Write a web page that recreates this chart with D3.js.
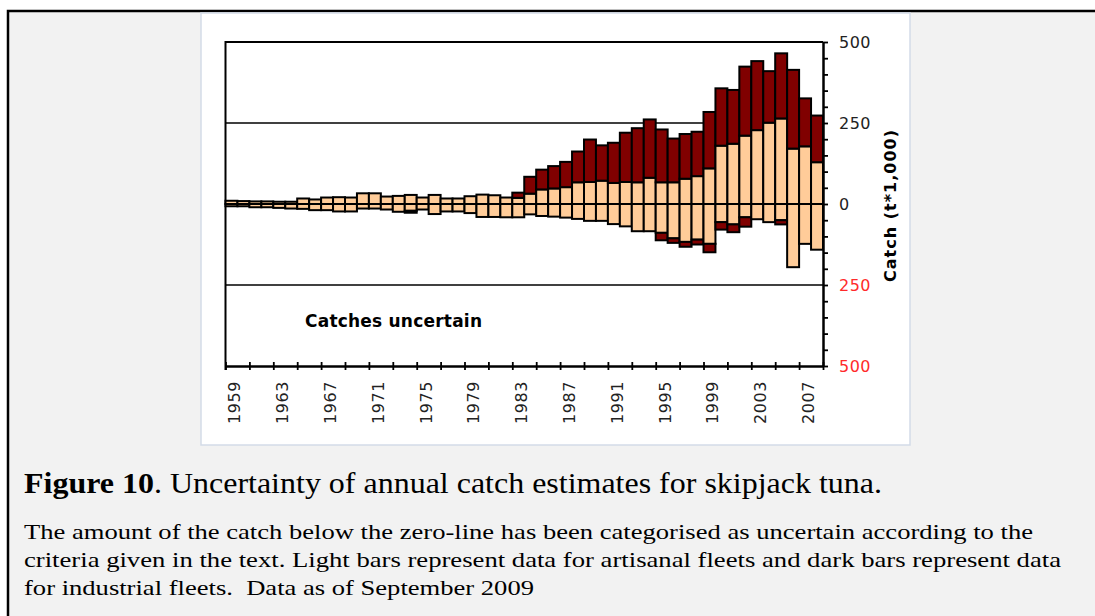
<!DOCTYPE html>
<meta charset="utf-8">
<html>
  <head>
    <title>Figure 10</title>
    <script src="https://d3js.org/d3.v7.min.js"></script>
    <style>
      html, body { margin: 0; background: #f2f2f2; overflow: hidden; }
    </style>
  </head>

  <body>
    <div id="chart"></div>

    <script type="text/javascript">

        // Catch in t*1,000
        var years = [1959, 1960, 1961, 1962, 1963, 1964, 1965, 1966, 1967, 1968,
                     1969, 1970, 1971, 1972, 1973, 1974, 1975, 1976, 1977, 1978,
                     1979, 1980, 1981, 1982, 1983, 1984, 1985, 1986, 1987, 1988,
                     1989, 1990, 1991, 1992, 1993, 1994, 1995, 1996, 1997, 1998,
                     1999, 2000, 2001, 2002, 2003, 2004, 2005, 2006, 2007, 2008];

        // above the zero-line
        var artisanal = [10, 9, 8, 8, 7, 7, 17, 14, 20, 21,
                         20, 33, 33, 23, 25, 28, 20, 28, 17, 17,
                         24, 29, 27, 20, 19, 32, 45, 48, 52, 67,
                         68, 72, 65, 68, 67, 81, 67, 67, 78, 86,
                         110, 180, 186, 211, 228, 251, 264, 171, 178, 129];
        var industrial = [0, 0, 0, 0, 0, 0, 0, 0, 0, 0,
                          0, 0, 0, 0, 0, 0, 0, 0, 0, 0,
                          0, 0, 0, 0, 16, 52, 61, 69, 78, 95,
                          131, 109, 124, 152, 167, 180, 163, 135, 138, 137,
                          174, 177, 166, 213, 213, 159, 201, 243, 148, 144];

        // below the zero-line (uncertain)
        var artisanal_unc = [7, 7, 10, 10, 12, 14, 15, 19, 19, 23,
                             23, 14, 14, 17, 24, 21, 17, 31, 23, 23,
                             28, 40, 40, 41, 41, 32, 37, 39, 42, 46,
                             52, 52, 62, 69, 84, 84, 89, 106, 117, 110,
                             123, 56, 63, 41, 47, 56, 50, 195, 123, 141];
        var industrial_unc = [0, 0, 0, 0, 0, 0, 0, 0, 0, 0,
                              0, 0, 0, 0, 0, 6, 0, 0, 0, 0,
                              0, 0, 0, 0, 0, 0, 0, 0, 0, 0,
                              0, 0, 0, 0, 0, 0, 23, 14, 15, 15,
                              26, 23, 24, 29, 0, 0, 13, 0, 0, 0];

        var label_years = [1959, 1963, 1967, 1971, 1975, 1979, 1983, 1987, 1991, 1995, 1999, 2003, 2007];
        var y_ticks = [-500, -250, 0, 250, 500];

        var total_width = 1140,
            total_height = 640,
            plot = {left: 225.5, right: 823, top: 42, bottom: 366},
            light = "#ffcc99",
            dark = "#800000";

        var svg = d3.select("#chart").append("svg")
            .attr("width", total_width)
            .attr("height", total_height)
            .style("display", "block");

        // page background, frame shows only on top and left
        svg.append("rect")
            .attr("x", 0).attr("y", 0)
            .attr("width", total_width).attr("height", 11)
            .style("fill", "white");
        svg.append("rect")
            .attr("x", 0).attr("y", 0)
            .attr("width", 8).attr("height", total_height)
            .style("fill", "white");
        svg.append("path")
            .attr("d", "M8," + total_height + "V11H" + total_width)
            .style("fill", "none")
            .style("stroke", "black")
            .style("stroke-width", 2.5);

        svg.append("rect")
            .attr("x", 201).attr("y", 13)
            .attr("width", 709).attr("height", 432)
            .style("fill", "white")
            .style("stroke", "#d3dbe8")
            .style("stroke-width", 1.5);

        //Implement scales
        var x_scale = d3.scaleBand()
            .domain(years)
            .range([plot.left, plot.right])
            .padding(0);
        var x_lin = d3.scaleLinear()
            .domain([years[0], years[years.length - 1] + 1])
            .range([plot.left, plot.right]);
        var y_scale = d3.scaleLinear()
            .domain([-500, 500])
            .range([plot.bottom, plot.top]);

        // gridlines at +-250 and frame
        svg.append("g").selectAll("line")
            .data([250, -250])
            .enter().append("line")
            .attr("x1", plot.left).attr("x2", plot.right)
            .attr("y1", function(d){ return y_scale(d); })
            .attr("y2", function(d){ return y_scale(d); })
            .style("stroke", "black")
            .style("stroke-width", 1.6);

        svg.append("path")
            .attr("d", "M" + plot.left + "," + (plot.bottom + 4) + "V" + plot.top + "H" + plot.right)
            .style("fill", "none")
            .style("stroke", "black")
            .style("stroke-width", 2);

        //Build bar segments
        var segments = [];
        years.forEach(function(yr, i){
            var a = artisanal[i], b = industrial[i], c = artisanal_unc[i], e = industrial_unc[i];
            if (a > 0) segments.push({year: yr, lo: 0, hi: a, fill: light});
            if (b > 0) segments.push({year: yr, lo: a, hi: a + b, fill: dark});
            if (c > 0) segments.push({year: yr, lo: -c, hi: 0, fill: light});
            if (e > 0) segments.push({year: yr, lo: -c - e, hi: -c, fill: dark});
        });

        svg.append("g").selectAll("rect")
            .data(segments)
            .enter().append("rect")
            .attr("x", function(d){ return x_scale(d.year); })
            .attr("y", function(d){ return y_scale(d.hi); })
            .attr("width", x_scale.bandwidth())
            .attr("height", function(d){ return y_scale(d.lo) - y_scale(d.hi); })
            .style("fill", function(d){ return d.fill; })
            .style("stroke", "black")
            .style("stroke-width", 2);

        // zero line
        svg.append("line")
            .attr("x1", plot.left).attr("x2", plot.right)
            .attr("y1", y_scale(0)).attr("y2", y_scale(0))
            .style("stroke", "black")
            .style("stroke-width", 1.2);

        //Build axis
        var y_axis = d3.axisRight(y_scale)
            .tickValues(d3.range(-500, 501, 50))
            .tickSize(5)
            .tickSizeOuter(0)
            .tickPadding(11)
            .tickFormat(function(d){ return y_ticks.indexOf(d) >= 0 ? Math.abs(d) : ""; });

        var y_g = svg.append("g")
            .attr("transform", "translate(" + plot.right + ",0)")
            .call(y_axis);
        y_g.select(".domain").style("stroke-width", 2.5);
        y_g.selectAll(".tick line").style("stroke-width", 1.8);
        y_g.selectAll("text")
            .style("font-family", "DejaVu Sans")
            .style("font-size", "16px")
            .style("letter-spacing", "0.5px")
            .style("fill", function(d){ return d < 0 ? "#ff2a2a" : "#222"; });

        var x_axis = d3.axisBottom(x_lin)
            .tickValues(d3.range(years[0], years[years.length - 1] + 2, 2))
            .tickSizeInner(4)
            .tickSizeOuter(0)
            .tickFormat("");
        var x_g = svg.append("g")
            .attr("transform", "translate(0," + plot.bottom + ")")
            .call(x_axis);
        x_g.select(".domain").style("stroke-width", 2.5);
        x_g.selectAll(".tick line")
            .attr("y1", -4)
            .style("stroke-width", 1.8);

        svg.append("g").selectAll("text")
            .data(label_years)
            .enter().append("text")
            .attr("transform", function(d){
                return "translate(" + (x_scale(d) + x_scale.bandwidth() / 2 + 9) + ",424) rotate(-90)"; })
            .attr("text-anchor", "start")
            .style("font-family", "DejaVu Sans")
            .style("font-size", "16px")
            .style("letter-spacing", "0.6px")
            .style("fill", "#222")
            .text(function(d){ return d; });

        // axis title
        svg.append("text")
            .attr("transform", "translate(896,206) rotate(-90)")
            .attr("text-anchor", "middle")
            .attr("textLength", 152)
            .attr("lengthAdjust", "spacing")
            .style("font-family", "DejaVu Sans")
            .style("font-weight", "bold")
            .style("font-size", "16px")
            .text("Catch (t*1,000)");

        svg.append("text")
            .attr("x", 305)
            .attr("y", 326.5)
            .attr("textLength", 177)
            .style("font-family", "DejaVu Sans")
            .style("font-weight", "bold")
            .style("font-size", "17px")
            .text("Catches uncertain");

        // caption
        var caption = svg.append("text")
            .attr("x", 24)
            .attr("y", 493)
            .attr("textLength", 858)
            .attr("lengthAdjust", "spacingAndGlyphs")
            .style("font-family", "Liberation Serif")
            .style("font-size", "30px");
        caption.append("tspan").style("font-weight", "bold").text("Figure 10");
        caption.append("tspan").text(". Uncertainty of annual catch estimates for skipjack tuna.");

        var notes = [
            {text: "The amount of the catch below the zero-line has been categorised as uncertain according to the", y: 539, w: 1009},
            {text: "criteria given in the text. Light bars represent data for artisanal fleets and dark bars represent data", y: 567, w: 1037},
            {text: "for industrial fleets.  Data as of September 2009", y: 595, w: 510}
        ];
        svg.append("g").selectAll("text")
            .data(notes)
            .enter().append("text")
            .attr("x", 24)
            .attr("y", function(d){ return d.y; })
            .attr("textLength", function(d){ return d.w; })
            .attr("lengthAdjust", "spacingAndGlyphs")
            .style("font-family", "Liberation Serif")
            .style("font-size", "22px")
            .style("white-space", "pre")
            .text(function(d){ return d.text; });
    </script>
  </body>
</html>
